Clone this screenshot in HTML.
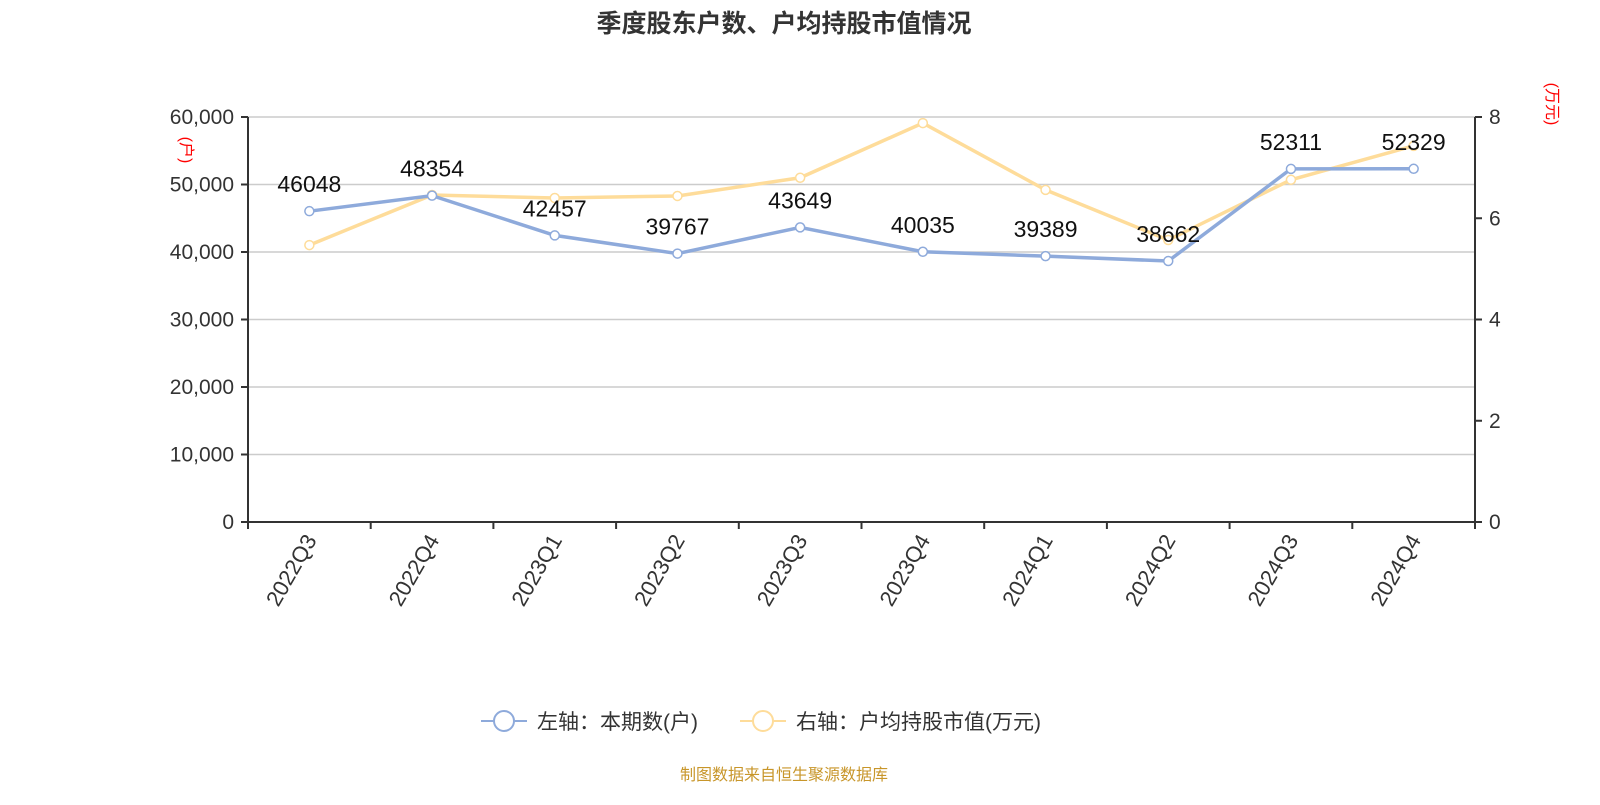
<!DOCTYPE html>
<html><head><meta charset="utf-8"><style>
body{margin:0;background:#fff;width:1600px;height:800px;overflow:hidden}
text{font-family:"Liberation Sans","Noto Sans CJK SC",sans-serif}
</style></head><body>
<svg id="c" width="1600" height="800">
<text x="784" y="32" text-anchor="middle" font-size="25" font-weight="bold" fill="#333">季度股东户数、户均持股市值情况</text>
<text transform="translate(181,150) rotate(90)" text-anchor="middle" font-size="16" fill="#f00">(户)</text>
<text transform="translate(1547,104) rotate(90)" text-anchor="middle" font-size="16" fill="#f00">(万元)</text>
<g id="grid"></g><g id="axes"></g><g id="lines"></g><g id="labels"></g>
<g>
<g><line x1="481" y1="721" x2="527" y2="721" stroke="#8eaadb" stroke-width="2"/><circle cx="504" cy="721" r="10" fill="#fff" stroke="#8eaadb" stroke-width="2"/><text x="537" y="729" font-size="21" fill="#333">左轴：本期数(户)</text></g>
<g><line x1="740" y1="721" x2="786" y2="721" stroke="#fedc9a" stroke-width="2"/><circle cx="763" cy="721" r="10" fill="#fff" stroke="#fedc9a" stroke-width="2"/><text x="796" y="729" font-size="21" fill="#333">右轴：户均持股市值(万元)</text></g>
</g>
<text x="784" y="780" text-anchor="middle" font-size="16" fill="#c8962a">制图数据来自恒生聚源数据库</text>
</svg>
<script>
const categories=["2022Q3","2022Q4","2023Q1","2023Q2","2023Q3","2023Q4","2024Q1","2024Q2","2024Q3","2024Q4"];
const holders=[46048,48354,42457,39767,43649,40035,39389,38662,52311,52329];
const avgValue=[5.47,6.46,6.4,6.44,6.8,7.88,6.56,5.57,6.76,7.43];
const leftTicks=[0,10000,20000,30000,40000,50000,60000];
const rightTicks=[0,2,4,6,8];
const NS="http://www.w3.org/2000/svg";
const X0=248,X1=1475,Y0=522,Y1=117;
const bw=(X1-X0)/categories.length;
const xs=i=>X0+bw*(i+0.5);
const yl=v=>Y0-(v/60000)*(Y0-Y1);
const yr=v=>Y0-(v/8)*(Y0-Y1);
function mk(tag,attrs,parent,txt){const e=document.createElementNS(NS,tag);for(const k in attrs)e.setAttribute(k,attrs[k]);if(txt!==undefined)e.textContent=txt;document.getElementById(parent).appendChild(e);return e;}
leftTicks.forEach(t=>{
 if(t>0){const g=mk('line',{x1:X0,x2:X1,y1:yl(t),y2:yl(t),stroke:'#ccc','stroke-width':1.5},'grid');
 
 }
 const tk=mk('line',{x1:X0-7,x2:X0,y1:yl(t),y2:yl(t),stroke:'#333','stroke-width':2},'axes');
 
 
 const l=mk('text',{x:X0-14,y:yl(t)+7,'text-anchor':'end','font-size':21,fill:'#333'},'axes',t.toLocaleString('en-US'));
 
 
});
rightTicks.forEach(t=>{
 const tk=mk('line',{x1:X1,x2:X1+7,y1:yr(t),y2:yr(t),stroke:'#333','stroke-width':2},'axes');
 
 
 const l=mk('text',{x:X1+14,y:yr(t)+7,'font-size':21,fill:'#333'},'axes',t);
 
 
});
[['left-axis-line',X0,Y1,X0,Y0],['right-axis-line',X1,Y1,X1,Y0],['x-axis-line',X0,Y0,X1,Y0]].forEach(a=>{
 const l=mk('line',{x1:a[1],y1:a[2],x2:a[3],y2:a[4],stroke:'#333','stroke-width':2},'axes');
 
 
});
categories.forEach((c,i)=>{
 const tk=mk('line',{x1:X0+bw*i,x2:X0+bw*i,y1:Y0,y2:Y0+7,stroke:'#333','stroke-width':2},'axes');
 
 
 const x=xs(i),y=Y0+18;
 const l=mk('text',{transform:`translate(${x+8},${y}) rotate(-60)`,'text-anchor':'end','font-size':22,fill:'#333'},'axes',c);
 
 
});
const last=X0+bw*categories.length;
const tk=mk('line',{x1:last,x2:last,y1:Y0,y2:Y0+7,stroke:'#333','stroke-width':2},'axes');


function series(vals,fy,color,name){
 const p=mk('polyline',{points:vals.map((v,i)=>xs(i)+','+fy(v)).join(' '),fill:'none',stroke:color,'stroke-width':3.5},'lines');
 
 
 vals.forEach((v,i)=>{const c=mk('circle',{cx:xs(i),cy:fy(v),r:4.5,fill:'#fff',stroke:color,'stroke-width':1.5},'lines');
 
 });
}
series(avgValue,yr,'#fedc9a','avg-value');
series(holders,yl,'#8eaadb','holders');
holders.forEach((v,i)=>{
 const l=mk('text',{x:xs(i),y:yl(v)-19,'text-anchor':'middle','font-size':23,fill:'#111'},'labels',v);
 
 
});
</script>
</body></html>
